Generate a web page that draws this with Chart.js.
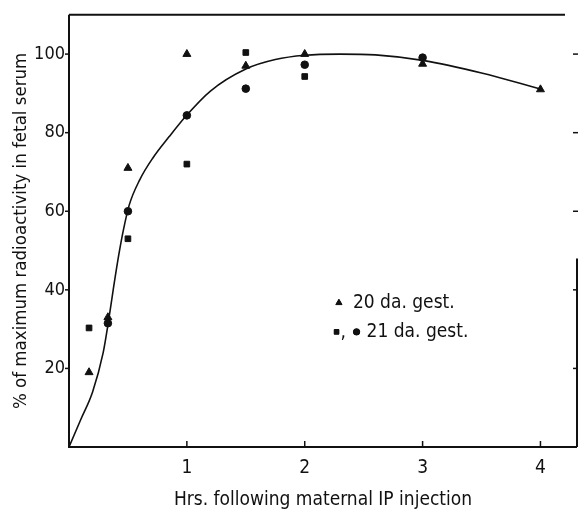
<!DOCTYPE html>
<html>
<head>
<meta charset="utf-8">
<script src="https://cdn.jsdelivr.net/npm/chart.js@4.4.1/dist/chart.umd.min.js"></script>
<style>
html,body{margin:0;padding:0;background:#fff;}
#wrap{width:579px;height:511px;position:relative;}
</style>
</head>
<body>
<div id="wrap"><canvas id="c" width="579" height="511"></canvas></div>
<script>
// ---- data ----
const xTickValues = [1, 2, 3, 4];
const xTickLabels = ['1', '2', '3', '4'];
const yTickValues = [20, 40, 60, 80, 100];
const yTickLabels = ['20', '40', '60', '80', '100'];
const xMax = 4.31;
const yMax = 110;

const tri20X = [0.17, 0.33, 0.5, 1, 1.5, 2, 3, 4];
const tri20Y = [19, 33, 71, 100, 97, 100, 97.5, 91];

const sq21X = [0.17, 0.5, 1, 1.5, 2];
const sq21Y = [30.3, 53, 72, 100.4, 94.3];

const ci21X = [0.33, 0.5, 1, 1.5, 2, 3];
const ci21Y = [31.5, 60, 84.4, 91.2, 97.3, 99.1];

const curveX = [0, 0.1, 0.2, 0.29, 0.33, 0.375, 0.42, 0.46, 0.51, 0.6, 0.71, 0.85, 1.0, 1.2, 1.5, 1.75, 2.0, 2.3, 2.6, 3.0, 3.5, 4.0];
const curveY = [0, 7, 14, 24, 31, 40, 48.5, 55, 61.5, 68, 73.5, 79, 84.5, 90.6, 96.2, 98.6, 99.7, 100, 99.8, 98.4, 95.2, 91.1];

const legendLabels = ['20 da. gest.', '21 da. gest.'];
const xTitle = 'Hrs. following maternal IP injection';
const yTitle = '% of maximum radioactivity in fetal serum';

const FONT = "'DejaVu Sans Condensed', 'Liberation Sans Narrow', sans-serif";
const INK = '#111';

function pts(xs, ys) { return xs.map((x, i) => ({x: x, y: ys[i]})); }
function labelFor(vals, labels) {
  return (v) => { const i = vals.indexOf(v); return i < 0 ? null : labels[i]; };
}

const framePlugin = {
  id: 'frame',
  afterDatasetsDraw(chart) {
    const ctx = chart.ctx, a = chart.chartArea;
    const xs = chart.scales.x, ys = chart.scales.y;
    ctx.save();
    ctx.strokeStyle = INK;
    ctx.lineCap = 'butt';
    ctx.lineWidth = 2;
    ctx.beginPath();
    ctx.moveTo(a.left, a.top); ctx.lineTo(a.left, a.bottom); ctx.lineTo(a.right, a.bottom);
    ctx.stroke();
    ctx.beginPath();
    ctx.moveTo(a.left, a.top); ctx.lineTo(a.right - 12, a.top);
    ctx.stroke();
    ctx.beginPath();
    ctx.moveTo(a.right, ys.getPixelForValue(48)); ctx.lineTo(a.right, a.bottom);
    ctx.stroke();
    ctx.lineWidth = 1.5;
    xTickValues.forEach(v => {
      const px = xs.getPixelForValue(v);
      ctx.beginPath(); ctx.moveTo(px, a.bottom); ctx.lineTo(px, a.bottom - 6); ctx.stroke();
    });
    yTickValues.forEach(v => {
      const py = ys.getPixelForValue(v);
      ctx.beginPath(); ctx.moveTo(a.right + 1, py); ctx.lineTo(a.right - 4, py); ctx.stroke();
    });
    yTickValues.forEach(v => {
      const py = ys.getPixelForValue(v);
      ctx.beginPath(); ctx.moveTo(a.left, py); ctx.lineTo(a.left - 4, py); ctx.stroke();
    });
    ctx.restore();
  }
};

const legendPlugin = {
  id: 'legendBox',
  afterDatasetsDraw(chart) {
    const ctx = chart.ctx;
    const xs = chart.scales.x, ys = chart.scales.y;
    const xa = xs.getPixelForValue(2.29);
    const xb = xs.getPixelForValue(2.27);
    const y1 = ys.getPixelForValue(36.7);
    const y2 = ys.getPixelForValue(29.3);
    ctx.save();
    ctx.fillStyle = INK; ctx.strokeStyle = INK; ctx.lineWidth = 1;
    Chart.helpers.drawPoint(ctx, {pointStyle: 'triangle', radius: 3.6, rotation: 0, borderWidth: 1}, xa, y1);
    ctx.fill();
    Chart.helpers.drawPoint(ctx, {pointStyle: 'rect', radius: 3.3, rotation: 0, borderWidth: 1}, xb, y2);
    ctx.fill();
    Chart.helpers.drawPoint(ctx, {pointStyle: 'circle', radius: 3.2, rotation: 0, borderWidth: 1}, xb + 20, y2);
    ctx.fill();
    ctx.font = "19px " + FONT;
    ctx.textBaseline = 'middle';
    ctx.textAlign = 'left';
    ctx.fillText(',', xb + 4, y2 + 1);
    ctx.fillText(legendLabels[0], xa + 14, y1);
    ctx.fillText(legendLabels[1], xb + 30, y2);
    ctx.restore();
  }
};

const ptCommon = {type: 'scatter', showLine: false, backgroundColor: INK, borderColor: INK, borderWidth: 1, pointHoverRadius: 0};

new Chart(document.getElementById('c'), {
  data: {
    datasets: [
      {type: 'line', data: pts(curveX, curveY), borderColor: INK, borderWidth: 1.6, pointRadius: 0,
       cubicInterpolationMode: 'monotone', fill: false, parsing: false},
      Object.assign({}, ptCommon, {data: pts(tri20X, tri20Y), pointStyle: 'triangle', pointRadius: 4.6}),
      Object.assign({}, ptCommon, {data: pts(sq21X, sq21Y), pointStyle: 'rect', pointRadius: 4}),
      Object.assign({}, ptCommon, {data: pts(ci21X, ci21Y), pointStyle: 'circle', pointRadius: 3.8})
    ]
  },
  options: {
    responsive: false,
    animation: false,
    events: [],
    layout: {autoPadding: false, padding: {top: 14, right: 2, left: 0, bottom: 0}},
    plugins: {legend: {display: false}, tooltip: {enabled: false}},
    scales: {
      x: {
        type: 'linear', min: 0, max: xMax, position: 'bottom',
        afterBuildTicks: s => { s.ticks = xTickValues.concat([xMax]).map(v => ({value: v})); },
        afterFit: s => { s.height = 64; },
        grid: {display: false, drawTicks: false},
        border: {display: false},
        ticks: {color: INK, padding: 10, font: {family: FONT, size: 19},
                callback: labelFor(xTickValues, xTickLabels)},
        title: {display: true, text: xTitle, color: INK, padding: {top: 0, bottom: 0},
                font: {family: FONT, size: 19}}
      },
      y: {
        type: 'linear', min: 0, max: yMax, position: 'left',
        afterBuildTicks: s => { s.ticks = yTickValues.concat([yMax]).map(v => ({value: v})); },
        afterFit: s => { s.width = 69; },
        grid: {display: false, drawTicks: false},
        border: {display: false},
        ticks: {color: INK, padding: 4, font: {family: FONT, size: 18},
                callback: labelFor(yTickValues, yTickLabels)},
        title: {display: true, text: yTitle, color: INK, padding: {top: 10, bottom: 0},
                font: {family: FONT, size: 18.5}}
      }
    }
  },
  plugins: [framePlugin, legendPlugin]
});
</script>
</body>
</html>
